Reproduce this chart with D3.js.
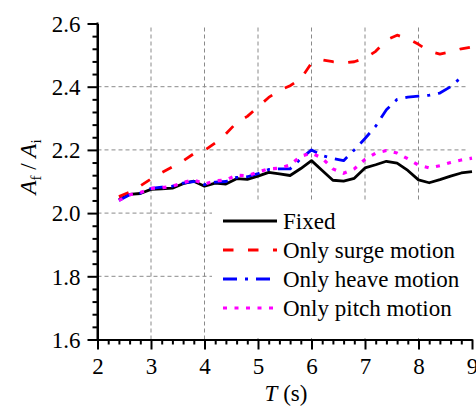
<!DOCTYPE html>
<html>
<head>
<meta charset="utf-8">
<script src="https://cdn.jsdelivr.net/npm/d3@7"></script>
<style>
  html, body { margin: 0; padding: 0; background: #fff; }
  svg { display: block; }
  svg text { font-family: 'Liberation Serif', 'DejaVu Serif', 'Times New Roman', serif !important; fill: #000; }
</style>
</head>
<body>
<svg id="chart" width="476" height="408"></svg>
<script>
// ---- data ----
const periods = [2.4, 2.6, 2.8, 3.0, 3.2, 3.4, 3.6, 3.8, 4.0, 4.2, 4.4, 4.6, 4.8, 5.0, 5.2, 5.4, 5.6, 5.8,
                 6.0, 6.2, 6.4, 6.6, 6.8, 7.0, 7.2, 7.4, 7.6, 7.8, 8.0, 8.2, 8.4, 8.6, 8.8, 9.0];
const fixedVals = [2.043, 2.059, 2.062, 2.075, 2.077, 2.079, 2.093, 2.101, 2.085, 2.095, 2.092, 2.109, 2.107, 2.117, 2.129, 2.124, 2.119, 2.141,
                   2.166, 2.135, 2.104, 2.101, 2.110, 2.143, 2.153, 2.164, 2.158, 2.135, 2.105, 2.096, 2.106, 2.117, 2.127, 2.131];
const surgeVals = [2.052, 2.066, 2.086, 2.108, 2.128, 2.146, 2.165, 2.188, 2.198, 2.222, 2.251, 2.286, 2.306, 2.336, 2.366, 2.388, 2.403, 2.425,
                   2.475, 2.485, 2.479, 2.475, 2.479, 2.490, 2.512, 2.548, 2.563, 2.552, 2.534, 2.512, 2.503, 2.510, 2.520, 2.526];
const heaveVals = [2.040, 2.058, 2.063, 2.078, 2.082, 2.085, 2.095, 2.100, 2.090, 2.098, 2.100, 2.113, 2.115, 2.125, 2.138, 2.140, 2.140, 2.172,
                   2.200, 2.182, 2.173, 2.166, 2.200, 2.236, 2.275, 2.327, 2.360, 2.367, 2.370, 2.373, 2.380, 2.400, 2.430, null];
const pitchVals = [2.040, 2.058, 2.065, 2.078, 2.080, 2.085, 2.097, 2.105, 2.092, 2.102, 2.105, 2.120, 2.118, 2.130, 2.140, 2.142, 2.152, 2.180,
                   2.190, 2.174, 2.140, 2.126, 2.140, 2.170, 2.190, 2.198, 2.190, 2.172, 2.152, 2.143, 2.150, 2.160, 2.168, 2.174];
const seriesNames = ["Fixed", "Only surge motion", "Only heave motion", "Only pitch motion"];
const xTicks = [2, 3, 4, 5, 6, 7, 8, 9];
const yTicks = [1.6, 1.8, 2.0, 2.2, 2.4, 2.6];
const xGrid = [3, 4, 5, 6, 7, 8];
const yGrid = [1.8, 2.0, 2.2, 2.4];

// ---- styles ----
const FONT = "'Liberation Serif', 'DejaVu Serif', serif";
const FS = 23;
const styles = [
  { color: "#000000", width: 2.8, dash: null },
  { color: "#ff0000", width: 2.8, dash: "10.5,14.5" },
  { color: "#0000ff", width: 2.8, dash: "14,8,3,8" },
  { color: "#ff00ff", width: 3.2, dash: "4,7.5" }
];

const svg = d3.select("#chart");
const x = d3.scaleLinear().domain([2, 9]).range([97.5, 472]);
const y = d3.scaleLinear().domain([1.6, 2.6]).range([339.5, 23.5]);

// grid
const grid = svg.append("g").attr("stroke", "#8a8a8a").attr("stroke-width", 1).attr("stroke-dasharray", "4,3");
grid.selectAll("line.v").data(xGrid).join("line")
  .attr("x1", d => x(d)).attr("x2", d => x(d)).attr("y1", y(2.6) + 4).attr("y2", y(1.6));
grid.selectAll("line.h").data(yGrid).join("line")
  .attr("x1", x(2)).attr("x2", x(9) - 5).attr("y1", d => y(d)).attr("y2", d => y(d));

// series
const allVals = [fixedVals, surgeVals, heaveVals, pitchVals];
const line = d3.line().defined(d => d.v !== null).x(d => x(d.t)).y(d => y(d.v));
allVals.forEach((vals, i) => {
  const pts = periods.map((t, k) => ({ t, v: vals[k] }));
  svg.append("path").datum(pts)
    .attr("fill", "none")
    .attr("stroke", styles[i].color)
    .attr("stroke-width", styles[i].width)
    .attr("stroke-dasharray", styles[i].dash)
    .attr("stroke-linejoin", "round")
    .attr("d", line);
});

// legend
const lg = svg.append("g");
lg.append("rect").attr("x", 212).attr("y", 202).attr("width", 270).attr("height", 136).attr("fill", "#fff");
const rowY = [221, 250, 279, 308];
seriesNames.forEach((name, i) => {
  lg.append("line").attr("x1", 223).attr("x2", 277).attr("y1", rowY[i]).attr("y2", rowY[i])
    .attr("stroke", styles[i].color).attr("stroke-width", styles[i].width)
    .attr("stroke-dasharray", styles[i].dash);
  lg.append("text").attr("x", 283).attr("y", rowY[i] + 7.5).attr("font-size", FS)
    .style("font-family", FONT).text(name);
});

// axes
const fmtY = d3.format(".1f");
const xAxis = svg.append("g").attr("transform", `translate(0,${y(1.6)})`)
  .call(d3.axisBottom(x).tickValues(xTicks).tickFormat(d3.format("d")).tickSize(10).tickSizeOuter(0).tickPadding(8));
const xMinor = svg.append("g").attr("transform", `translate(0,${y(1.6)})`)
  .call(d3.axisBottom(x).tickValues(d3.range(2, 9.001, 0.2).filter(v => Math.abs(v - Math.round(v)) > 1e-6)).tickFormat("").tickSize(5).tickSizeOuter(0));
const yAxis = svg.append("g").attr("transform", `translate(${x(2)},0)`)
  .call(d3.axisLeft(y).tickValues(yTicks).tickFormat(fmtY).tickSize(10).tickSizeOuter(0).tickPadding(7));
const yMinor = svg.append("g").attr("transform", `translate(${x(2)},0)`)
  .call(d3.axisLeft(y).tickValues(d3.range(1.6, 2.6001, 0.04).filter(v => Math.abs(v * 5 - Math.round(v * 5)) > 1e-6)).tickFormat("").tickSize(5).tickSizeOuter(0));
[xAxis, xMinor, yAxis, yMinor].forEach(g => {
  g.attr("font-family", null);
  g.selectAll("path, line").attr("stroke", "#000").attr("stroke-width", 2);
  g.selectAll("text").style("font-family", FONT).attr("font-size", FS).attr("fill", "#000");
});
yAxis.selectAll("text").attr("dy", "0.34em");
xAxis.selectAll("text").attr("dy", "0.7em");
svg.append("line").attr("x1", x(2)).attr("x2", x(2)).attr("y1", y(2.6) - 1).attr("y2", y(1.6) + 1).attr("stroke", "#000").attr("stroke-width", 2);

// axis titles
const xt = svg.append("text").attr("x", 286).attr("y", 401).attr("text-anchor", "middle").attr("font-size", FS).style("font-family", FONT);
xt.append("tspan").attr("font-style", "italic").text("T");
xt.append("tspan").text(" (s)");

const yt = svg.append("text").attr("transform", "translate(36,167) rotate(-90)").attr("text-anchor", "middle").attr("font-size", FS).style("font-family", FONT);
yt.append("tspan").attr("font-style", "italic").text("A");
yt.append("tspan").attr("font-size", 15).attr("dy", 5).text("f");
yt.append("tspan").attr("dy", -5).text(" / ");
yt.append("tspan").attr("font-style", "italic").text("A");
yt.append("tspan").attr("font-size", 15).attr("dy", 5).text("i");
</script>
</body>
</html>
